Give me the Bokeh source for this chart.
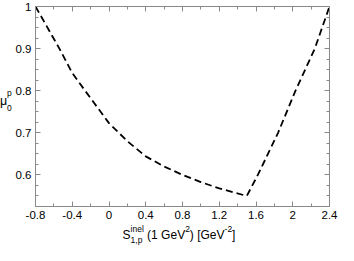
from bokeh.plotting import figure
from bokeh.models import (LinearAxis, FixedTicker, CustomJSTickFormatter, Range1d, Div)
from bokeh.layouts import row, column
from bokeh.embed import file_html
from bokeh.resources import INLINE

# ---- data ----
s_inel = [-0.8, -0.54, -0.4, -0.26, 0.0, 0.2, 0.4, 0.6, 0.8, 1.0, 1.2, 1.5,
          1.62, 1.84, 2.03, 2.24, 2.4]
mu0_p = [1.0, 0.9, 0.842, 0.8, 0.723, 0.68, 0.644, 0.62, 0.6, 0.583, 0.568, 0.55,
         0.6, 0.7, 0.8, 0.9, 1.0]

x_ticks = [-0.8, -0.4, 0, 0.4, 0.8, 1.2, 1.6, 2, 2.4]
x_minor = [-0.6, -0.2, 0.2, 0.6, 1.0, 1.4, 1.8, 2.2]
y_ticks = [0.6, 0.7, 0.8, 0.9, 1]
y_minor = [0.525, 0.55, 0.575, 0.625, 0.65, 0.675, 0.725, 0.75, 0.775,
           0.825, 0.85, 0.875, 0.925, 0.95, 0.975]

FONT = "Liberation Sans"
GRAY = "#8a8a8a"

YL_W = 12            # width of the y-label strip
PW, PH = 326, 225    # figure size
XL_H = 20            # height of the x-label strip
ML, MR, MT, MB = 20, 9, 6, 19

p = figure(width=PW, height=PH, output_backend="svg", toolbar_location=None,
           x_range=Range1d(-0.8, 2.4), y_range=Range1d(0.525, 1.0),
           min_border_left=ML, min_border_right=MR, min_border_top=MT,
           min_border_bottom=MB, x_axis_location=None, y_axis_location=None)
p.xgrid.visible = False
p.ygrid.visible = False
p.outline_line_color = GRAY
p.background_fill_color = "white"
p.border_fill_color = "white"

fmt = CustomJSTickFormatter(code="return tick.toString();")
blank = CustomJSTickFormatter(code="return '';")

def style(ax, labels=True):
    ax.axis_line_color = GRAY
    ax.major_tick_line_color = GRAY
    ax.minor_tick_line_color = GRAY
    ax.major_tick_in = 5
    ax.major_tick_out = 0
    ax.minor_tick_in = 3
    ax.minor_tick_out = 0
    ax.major_label_text_font = FONT
    ax.major_label_text_color = "black"
    ax.major_label_text_font_size = "11.5px"
    if labels:
        ax.formatter = fmt
        ax.major_label_standoff = 4
    else:
        ax.formatter = blank
        ax.major_label_standoff = 0

xt = FixedTicker(ticks=x_ticks, minor_ticks=x_minor)
yt = FixedTicker(ticks=y_ticks, minor_ticks=y_minor)

bx = LinearAxis(ticker=xt); style(bx)
tx = LinearAxis(ticker=xt); style(tx, False)
ly = LinearAxis(ticker=yt); style(ly)
ry = LinearAxis(ticker=yt); style(ry, False)
p.add_layout(bx, "below")
p.add_layout(tx, "above")
p.add_layout(ly, "left")
p.add_layout(ry, "right")

p.line(s_inel, mu0_p, line_color="black", line_width=1.8, line_dash="7 4")

# ---- axis titles as real HTML text with stacked sub/superscripts ----
def span(text, left, baseline, size):
    top = baseline - 0.8465 * size
    return (f'<span style="position:absolute;left:{left:.2f}px;top:{top:.2f}px;'
            f'font-size:{size}px;line-height:1;white-space:pre;">{text}</span>')

def box(w, h, inner):
    return (f'<div style="position:relative;width:{w}px;height:{h}px;'
            f'font-family:\'{FONT}\',Arial,sans-serif;color:#000;">{inner}</div>')

# y label: mu_0^p
frame_top, frame_h = MT, PH - MT - MB
y08 = frame_top + (1.0 - 0.8) / (1.0 - 0.525) * frame_h
ylab = (span("μ", 0, y08 + 15.5, 12.5) +
        span("0", 7.0, y08 + 20.5, 8.5) +
        span("p", 7.0, y08 + 5.5, 8.5))
ydiv = Div(text=box(YL_W, PH, ylab), width=YL_W, height=PH, margin=0)

# x label: S_{1,p}^{inel} (1 GeV^2) [GeV^-2]
main, small = 12, 8.5
B = 14.3
w_S = 0.667 * main
w_pair = 1.556 * small
w_a = 3.446 * main
w_2 = 0.556 * small
w_b = 2.890 * main
w_m2 = 0.889 * small
w_br = 0.278 * main
total = w_S + w_pair + w_a + w_2 + w_b + w_m2 + w_br
fl = YL_W + ML
fr = YL_W + PW - MR
x0 = (fl + fr) / 2 - 1.5 - total / 2
xs = x0
parts = [span("S", xs, B, main)]
xs += w_S
parts.append(span("inel", xs, B - 7, small))
parts.append(span("1,p", xs, B + 3.8, small))
xs += w_pair
parts.append(span(" (1 GeV", xs, B, main)); xs += w_a
parts.append(span("2", xs, B - 7, small)); xs += w_2
parts.append(span(") [GeV", xs, B, main)); xs += w_b
parts.append(span("-2", xs, B - 7, small)); xs += w_m2
parts.append(span("]", xs, B, main))
xdiv = Div(text=box(YL_W + PW, XL_H, "".join(parts)), width=YL_W + PW,
           height=XL_H, margin=0)

layout = column(row(ydiv, p, spacing=0), xdiv, spacing=0)

open("out.html", "w").write(file_html(layout, INLINE))
